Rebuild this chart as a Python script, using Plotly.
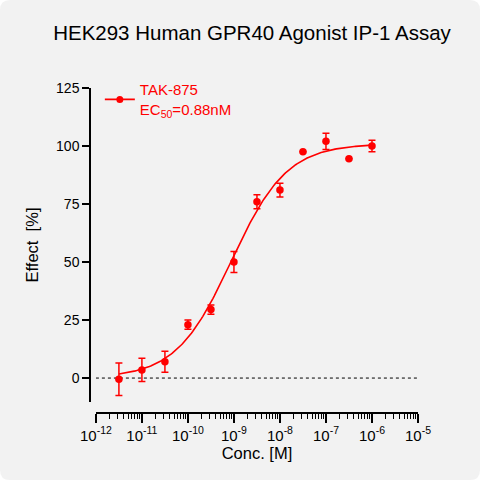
import numpy as np
import plotly.graph_objects as go

# measured points (log10 molar conc.)
log_conc = [-11.5, -11.0, -10.5, -10.0, -9.5, -9.0, -8.5, -8.0, -7.5, -7.0, -6.5, -6.0]
effect = [-0.5, 3.5, 7.0, 23.0, 29.5, 50.0, 76.0, 81.0, 97.5, 102.0, 94.5, 100.0]
err = [7.0, 5.0, 4.5, 2.0, 2.0, 4.5, 3.0, 3.0, 0.0, 3.5, 0.0, 2.5]

# 4PL fit parameters
fit_bottom = 0.0
fit_top = 101.0
fit_logec50 = np.log10(0.88e-9)
fit_hill = 0.72

x_ticks = [1e-12, 1e-11, 1e-10, 1e-9, 1e-8, 1e-7, 1e-6, 1e-5]
x_ticktext = ['10<sup>-12</sup>', '10<sup>-11</sup>', '10<sup>-10</sup>', '10<sup>-9</sup>',
              '10<sup>-8</sup>', '10<sup>-7</sup>', '10<sup>-6</sup>', '10<sup>-5</sup>']
y_ticks = [0, 25, 50, 75, 100, 125]

red = '#ff0000'
conc = [10 ** v for v in log_conc]

lx = np.linspace(log_conc[0], log_conc[-1], 200)
fit_y = fit_bottom + (fit_top - fit_bottom) / (1 + 10 ** ((fit_logec50 - lx) * fit_hill))

minor_vals = [m * 10 ** d for d in range(-12, -5) for m in range(2, 10)]

W, H = 480, 480
ML, MR, MT, MB = 90, 62, 88, 67


def px(x, y):
    # pixel -> paper coords, for the rounded background card
    return (x - ML) / (W - ML - MR), (H - MB - y) / (H - MT - MB)


r = 10
pts = [px(r, 0), px(W - r, 0), px(W, 0), px(W, r), px(W, H - r), px(W, H), px(W - r, H),
       px(r, H), px(0, H), px(0, H - r), px(0, r), px(0, 0), px(r, 0)]
card = 'M {0[0]},{0[1]} L {1[0]},{1[1]} Q {2[0]},{2[1]} {3[0]},{3[1]} L {4[0]},{4[1]} ' \
       'Q {5[0]},{5[1]} {6[0]},{6[1]} L {7[0]},{7[1]} Q {8[0]},{8[1]} {9[0]},{9[1]} ' \
       'L {10[0]},{10[1]} Q {11[0]},{11[1]} {12[0]},{12[1]} Z'.format(*pts)

fig = go.Figure()

# dotted zero line
fig.add_trace(go.Scatter(
    x=[1e-12, 1e-5], y=[0, 0], mode='lines',
    line=dict(color='#000000', width=1, dash='dot'),
    showlegend=False, hoverinfo='skip',
))
fig.add_trace(go.Scatter(
    x=10 ** lx, y=fit_y, mode='lines',
    line=dict(color=red, width=1.6),
    showlegend=False,
))
fig.add_trace(go.Scatter(
    x=conc, y=effect, mode='markers',
    marker=dict(color=red, size=7.5),
    error_y=dict(type='data', array=err, color=red, thickness=1.5, width=3.5),
    showlegend=False,
))
# legend entry
fig.add_trace(go.Scatter(
    x=[None], y=[None], mode='lines+markers',
    line=dict(color=red, width=1.6), marker=dict(color=red, size=7),
    name='TAK-875<br>EC<sub>50</sub>=0.88nM',
))

fig.add_shape(type='path', path=card, xref='paper', yref='paper', layer='below',
              fillcolor='#f2f2f2', line=dict(width=0))

fig.update_layout(
    width=W, height=H,
    margin=dict(l=ML, r=MR, t=MT, b=MB),
    paper_bgcolor='#ffffff', plot_bgcolor='rgba(0,0,0,0)',
    font=dict(family='Liberation Sans, Arial, sans-serif', color='#000000', size=14),
    title=dict(text='HEK293 Human GPR40 Agonist IP-1 Assay', x=0.525, xanchor='center',
               y=0.932, yanchor='middle', font=dict(size=20.5)),
    legend=dict(x=0.03, y=1.045, xanchor='left', yanchor='top', bgcolor='rgba(0,0,0,0)',
                font=dict(color=red, size=15), itemwidth=30, tracegroupgap=0),
    xaxis=dict(
        type='log', range=[-12, -5], domain=[0.018, 1], anchor='free', position=0,
        showgrid=False, zeroline=False, showline=True, linecolor='#000000', linewidth=1.5,
        tickmode='array', tickvals=x_ticks, ticktext=x_ticktext, tickfont=dict(size=15),
        ticks='outside', ticklen=9, tickwidth=1.5, tickcolor='#000000',
        minor=dict(tickmode='array', tickvals=minor_vals, ticks='outside', ticklen=5,
                   tickwidth=1.2, tickcolor='#000000', showgrid=False),
        title=dict(text='Conc. [M]', font=dict(size=16.5), standoff=2),
    ),
    yaxis=dict(
        range=[-10.3, 125], domain=[0.034, 1], anchor='free', position=0,
        showgrid=False, zeroline=False, showline=True, linecolor='#000000', linewidth=1.5,
        tickmode='array', tickvals=y_ticks,
        ticks='outside', ticklen=7, tickwidth=1.5, tickcolor='#000000',
        title=dict(text='Effect  [%]', font=dict(size=16.5), standoff=12),
    ),
)

fig.write_html('out.html', config={'displayModeBar': False},
               post_script="document.body.style.margin='0px';")
